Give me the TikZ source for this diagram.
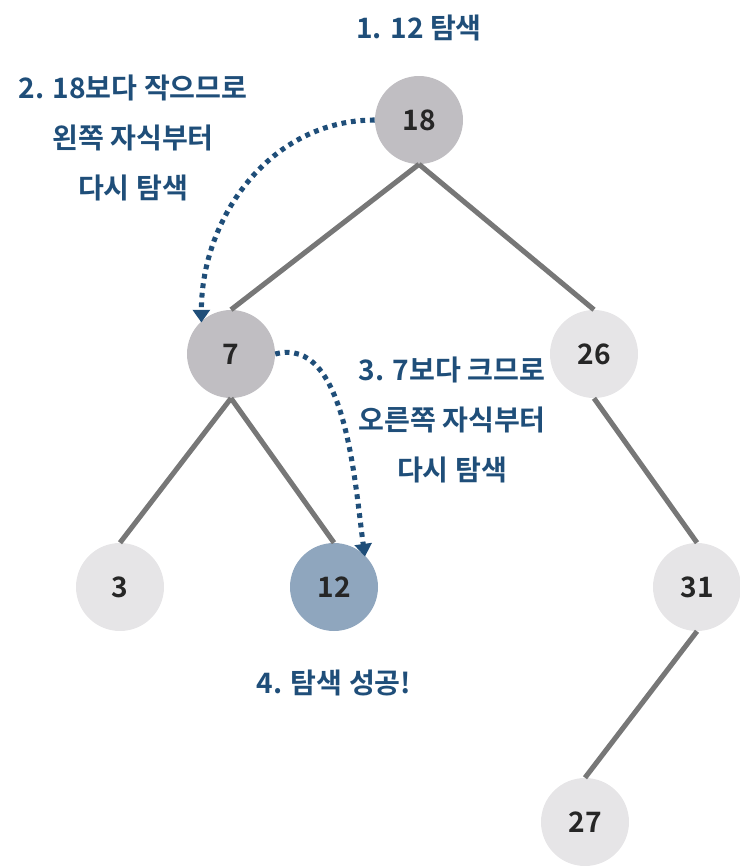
\documentclass[tikz,border=0pt]{standalone}
\usepackage{fontspec}
\setmainfont{Noto Sans CJK KR}[BoldFont={* Bold}]
\usepackage{tikz}
\usetikzlibrary{arrows.meta, positioning}
\definecolor{stepblue}{HTML}{1F4E79}
\definecolor{visitgray}{HTML}{C0BEC2}
\definecolor{idlegray}{HTML}{E6E5E7}
\definecolor{foundblue}{HTML}{8FA6BE}
\definecolor{edgegray}{HTML}{777777}

\begin{document}
\begin{tikzpicture}[x=0.025cm, y=-0.025cm,
  key/.style={circle, minimum size=88*0.025cm, inner sep=0pt,
              font=\fontsize{20}{22}\selectfont\bfseries, text=black!85},
  visited/.style={key, fill=visitgray},
  idle/.style={key, fill=idlegray},
  found/.style={key, fill=foundblue},
  edge/.style={edgegray, line width=3.6pt},
  hop/.style={stepblue, line width=3.6pt, dash pattern=on 3.4pt off 3.4pt,
              -{Triangle[width=12pt, length=9pt, sep=-1pt]}},
  note/.style={stepblue, align=center, font=\fontsize{20}{35.5}\selectfont\bfseries}
]
\useasboundingbox (0,0) rectangle (740,868);
% keys
\node[visited] (n18) at (419,120) {18};
\node[visited] (n7)  at (231,354) {7};
\node[idle]    (n26) at (594,354) {26};
\node[idle]    (n3)  at (120,587) {3};
\node[found]   (n12) at (334,587) {12};
\node[idle]    (n31) at (697,587) {31};
\node[idle]    (n27) at (585,822) {27};
% tree edges
\draw[edge] (n18.south) -- (n7.north);
\draw[edge] (n18.south) -- (n26.north);
\draw[edge] (n7.south)  -- (n3.north);
\draw[edge] (n7.south)  -- (n12.north);
\draw[edge] (n26.south) -- (n31.north);
\draw[edge] (n31.south) -- (n27.north);
% search path
\draw[hop] (n18.west) to[out=180, in=90] (n7.132);
\draw[hop] (n7.east) to[out=15, in=98, looseness=0.85] (n12.46);
% notes
\node[note] (s1) at (419,28) {1. 12 탐색};
\node[note] (s2) at (133,138) {2. 18보다 작으므로\\왼쪽 자식부터\\다시 탐색};
\node[note] (s3) at (452,420) {3. 7보다 크므로\\오른쪽 자식부터\\다시 탐색};
\node[note] (s4) at (334,683) {4. 탐색 성공!};
\end{tikzpicture}
\end{document}
